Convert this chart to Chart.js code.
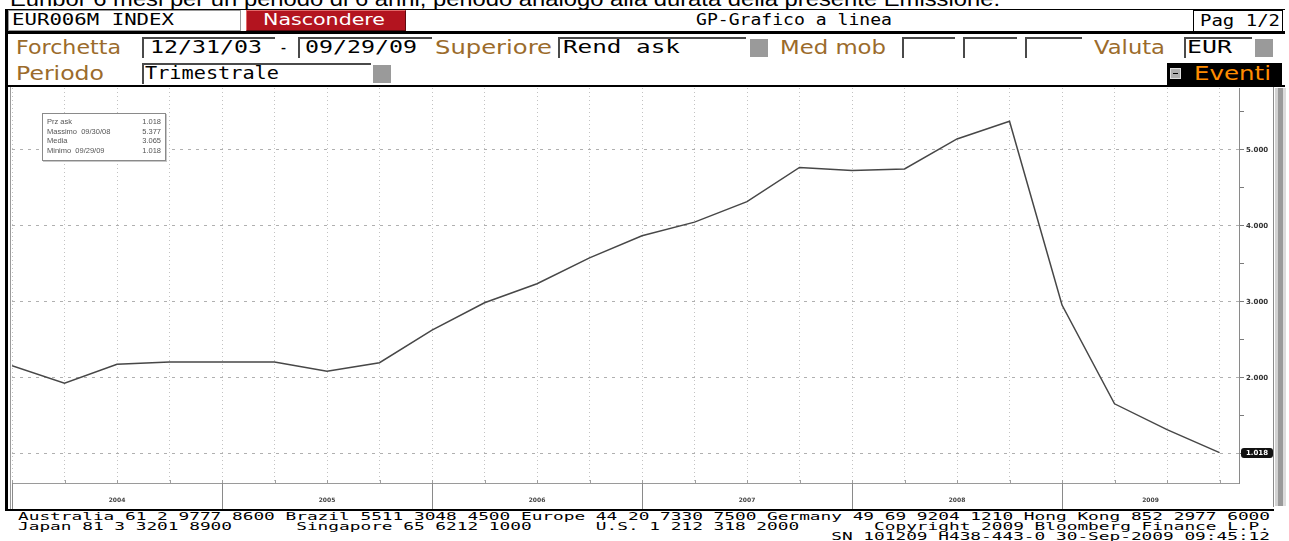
<!DOCTYPE html>
<html>
<head>
<meta charset="utf-8">
<title>EUR006M INDEX</title>
<script src="https://cdn.jsdelivr.net/npm/chart.js@4.4.1/dist/chart.umd.min.js"></script>
<style>
  html, body { margin: 0; padding: 0; background: #fff; }
  body { width: 1289px; height: 541px; position: relative; overflow: hidden; font-family: "DejaVu Sans", sans-serif; }
  .a { position: absolute; box-sizing: border-box; }
  .t { position: absolute; white-space: pre; transform-origin: 0 50%; }
  .lbl { color: #9b6b2b; font-size: 19px; line-height: 22px; }
  .val { color: #000; font-family: "DejaVu Sans Mono", monospace; font-size: 18px; line-height: 22px; }
  .box { position: absolute; box-sizing: border-box; height: 21px; border-top: 2px solid #4a4a4a; border-left: 2px solid #4a4a4a; background: #fff; }
  .sq { position: absolute; width: 18px; height: 18px; background: #9a9a9a; }
  .r1 { font-family: "DejaVu Sans Mono", monospace; font-size: 15px; line-height: 21px; color: #000; }
  #legend { position: absolute; left: 42px; top: 113px; width: 124px; height: 48px; box-sizing: border-box;
            border: 1px solid #8a8a8a; box-shadow: 1px 1px 0 #c8c8c8; background: #fff; padding: 3px 4px;
            font: 7.5px "Liberation Sans", Arial, sans-serif; line-height: 9.5px; color: #555; }
  #legend div { display: flex; justify-content: space-between; }
  #foot { left: 18px; top: 512px; font-family: "DejaVu Sans Mono", monospace; font-size: 11px; line-height: 9.8px; color: #000; margin: 0; }
</style>
</head>
<body>

<div class="t" data-w="990" style="left:10px;top:-12px;font:20px 'Liberation Sans',Arial,sans-serif;line-height:23px;">Euribor 6 mesi per un periodo di 6 anni, periodo analogo alla durata della presente Emissione.</div>

<!-- riga 1 -->
<div class="a" style="left:5px;top:9px;width:1280px;height:24px;background:#fff;border-top:1px solid #000;"></div>
<div class="a" style="left:8px;top:10px;width:233px;height:21px;border:1px solid #9a9a9a;"></div>
<div class="t r1" data-w="162" style="left:12px;top:10px;">EUR006M INDEX</div>
<div class="a" style="left:246px;top:10px;width:160px;height:21px;background:#b3141f;border-top:1px solid #e26a6a;border-left:1px solid #e26a6a;border-right:1px solid #5e0a10;border-bottom:1px solid #5e0a10;"></div>
<div class="t" data-w="122" style="left:263px;top:9px;color:#fff;font-size:16px;line-height:21px;">Nascondere</div>
<div class="t r1" data-w="196" style="left:696px;top:10px;">GP-Grafico a linea</div>
<div class="a" style="left:1193px;top:10px;width:90px;height:22px;border:1px solid #000;"></div>
<div class="t r1" data-w="80" style="left:1200px;top:11px;">Pag 1/2</div>
<div class="a" style="left:5px;top:31px;width:1280px;height:3px;background:#000;"></div>

<!-- riga 2 -->
<div class="t lbl" data-w="105" style="left:16px;top:36px;">Forchetta</div>
<div class="box" style="left:142px;top:37px;width:133px;"></div>
<div class="t val" data-w="112" style="left:150px;top:36px;">12/31/03</div>
<div class="t val" data-w="9" style="left:279px;top:36px;">-</div>
<div class="box" style="left:298px;top:37px;width:134px;"></div>
<div class="t val" data-w="112" style="left:305px;top:36px;">09/29/09</div>
<div class="t lbl" data-w="117" style="left:435px;top:36px;">Superiore</div>
<div class="box" style="left:558px;top:37px;width:188px;"></div>
<div class="t val" data-w="117" style="left:563px;top:36px;">Rend ask</div>
<div class="sq" style="left:750px;top:39px;"></div>
<div class="t lbl" data-w="106" style="left:780px;top:36px;">Med mob</div>
<div class="box" style="left:902px;top:37px;width:53px;"></div>
<div class="box" style="left:963px;top:37px;width:54px;"></div>
<div class="box" style="left:1025px;top:37px;width:57px;"></div>
<div class="t lbl" data-w="71" style="left:1094px;top:36px;">Valuta</div>
<div class="box" style="left:1184px;top:37px;width:68px;"></div>
<div class="t val" data-w="45" style="left:1187px;top:36px;">EUR</div>
<div class="sq" style="left:1255px;top:39px;"></div>

<!-- riga 3 -->
<div class="t lbl" data-w="88" style="left:16px;top:62px;">Periodo</div>
<div class="box" style="left:142px;top:63px;width:229px;"></div>
<div class="t val" data-w="134" style="left:145px;top:62px;">Trimestrale</div>
<div class="sq" style="left:373px;top:65px;"></div>
<div class="a" style="left:1167px;top:63px;width:115px;height:22px;background:#000;"></div>
<div class="a" style="left:1170px;top:68px;width:11px;height:11px;background:#b0b0b0;border:1px solid #e0e0e0;"></div>
<div class="a" style="left:1173px;top:73px;width:5px;height:1px;background:#000;"></div>
<div class="t" data-w="77" style="left:1194px;top:62px;color:#ff8c00;font-size:19px;line-height:22px;">Eventi</div>

<!-- cornice grafico -->
<div class="a" style="left:5px;top:9px;width:3px;height:502px;background:#000;"></div>
<div class="a" style="left:5px;top:85px;width:1280px;height:2px;background:#000;"></div>
<div class="a" style="left:10px;top:87px;width:1px;height:422px;background:#9a9a9a;"></div>
<div class="a" style="left:1273px;top:87px;width:1px;height:420px;background:#8a8a8a;"></div>
<div class="a" style="left:1275px;top:88px;width:11px;height:418px;background:linear-gradient(to right,#d2d2d2 0,#d2d2d2 3px,#9a9a9a 3px,#9a9a9a 8px,#dcdcdc 8px);"></div>
<div class="a" style="left:5px;top:509px;width:1269px;height:2px;background:#000;"></div>

<canvas id="chart" width="1264" height="421" style="position:absolute;left:10px;top:88px;width:1264px;height:421px;"></canvas>

<div id="legend"></div>

<pre id="foot" class="t"></pre>

<script>
// trimestri (fine periodo) e tassi EUR006M ask
const quarters = ['12/31/03', '03/31/04', '06/30/04', '09/30/04', '12/31/04', '03/31/05', '06/30/05', '09/30/05',
  '12/30/05', '03/31/06', '06/30/06', '09/29/06', '12/29/06', '03/30/07', '06/29/07', '09/28/07',
  '12/31/07', '03/31/08', '06/30/08', '09/30/08', '12/31/08', '03/31/09', '06/30/09', '09/29/09'];
const values = [2.16, 1.93, 2.18, 2.21, 2.21, 2.21, 2.09, 2.20,
  2.63, 2.99, 3.24, 3.58, 3.87, 4.05, 4.32, 4.77,
  4.73, 4.75, 5.145, 5.377, 2.96, 1.66, 1.32, 1.018];
const years = ['2004', '2005', '2006', '2007', '2008', '2009'];
const yTickValues = [1, 1.5, 2, 2.5, 3, 3.5, 4, 4.5, 5, 5.5];

// riquadro statistiche
const statLabels = ['Prz ask', 'Massimo', 'Media', 'Minimo'];
const statDates = ['', '09/30/08', '', '09/29/09'];
const statValues = ['1.018', '5.377', '3.065', '1.018'];

const footLines = [
  'Australia 61 2 9777 8600 Brazil 5511 3048 4500 Europe 44 20 7330 7500 Germany 49 69 9204 1210 Hong Kong 852 2977 6000',
  'Japan 81 3 3201 8900      Singapore 65 6212 1000      U.S. 1 212 318 2000       Copyright 2009 Bloomberg Finance L.P.',
  '                                                                            SN 101209 H438-443-0 30-Sep-2009 09:45:12'
];

document.getElementById('legend').innerHTML = statLabels.map((l, i) =>
  `<div><span>${l}${statDates[i] ? '&nbsp;&nbsp;' + statDates[i] : ''}</span><span>${statValues[i]}</span></div>`).join('');

const foot = document.getElementById('foot');
foot.textContent = footLines.join('\n');
foot.dataset.w = 1252;

// etichette anni + separatori + ultimo valore
const decor = {
  id: 'decor',
  afterDraw(chart) {
    const { ctx, chartArea: a, scales: { x, y } } = chart;
    ctx.save();
    const seps = quarters.map((q, i) => q.startsWith('12/') ? i : -1).filter(i => i >= 0);
    ctx.strokeStyle = '#8a8a8a';
    ctx.lineWidth = 1;
    seps.forEach(i => {
      const px = Math.round(x.getPixelForValue(i)) + 0.5;
      ctx.beginPath();
      ctx.moveTo(px, a.bottom);
      ctx.lineTo(px, chart.height);
      ctx.stroke();
    });
    // piccole tacche trimestrali sopra l'asse
    ctx.strokeStyle = '#a0a0a0';
    quarters.forEach((q, i) => {
      const px = Math.round(x.getPixelForValue(i)) + 0.5;
      ctx.beginPath();
      ctx.moveTo(px, a.bottom - 3);
      ctx.lineTo(px, a.bottom);
      ctx.stroke();
    });
    ctx.font = 'bold 6px "DejaVu Sans"';
    ctx.fillStyle = '#444';
    ctx.textAlign = 'center';
    ctx.textBaseline = 'middle';
    seps.forEach((i, k) => {
      const x0 = x.getPixelForValue(i);
      const x1 = k + 1 < seps.length ? x.getPixelForValue(seps[k + 1]) : a.right;
      ctx.fillText(years[k], (x0 + x1) / 2, a.bottom + 17);
    });

    const last = values[values.length - 1];
    const py = Math.round(y.getPixelForValue(last));
    const bx = a.right + 2, bw = 32, bh = 10;
    ctx.fillStyle = '#111';
    ctx.beginPath();
    ctx.roundRect(bx, py - bh / 2, bw, bh, 3);
    ctx.fill();
    ctx.fillStyle = '#fff';
    ctx.font = 'bold 7px "DejaVu Sans"';
    ctx.fillText(last.toFixed(3), bx + bw / 2, py + 0.5);
    ctx.restore();
  }
};

Chart.defaults.font.family = '"DejaVu Sans", sans-serif';

new Chart(document.getElementById('chart'), {
  type: 'line',
  data: {
    datasets: [{
      data: values.map((v, i) => ({ x: i, y: v })),
      borderColor: '#474747',
      borderWidth: 1.5,
      pointRadius: 0,
      tension: 0
    }]
  },
  options: {
    responsive: false,
    animation: false,
    layout: { padding: { left: 2, right: 0, top: 0, bottom: 0 } },
    plugins: { legend: { display: false }, tooltip: { enabled: false } },
    scales: {
      x: {
        type: 'linear',
        min: 0,
        max: 23.371,
        afterBuildTicks: s => { s.ticks = quarters.map((q, i) => ({ value: i })); },
        afterFit: s => { s.height = 26; s.paddingLeft = 0; s.paddingRight = 0; },
        ticks: { display: false },
        grid: { color: '#c2c2c2', lineWidth: 1, drawTicks: false },
        border: { display: true, color: '#9a9a9a', dash: [1, 3] }
      },
      y: {
        position: 'right',
        min: 0.618,
        max: 5.815,
        afterBuildTicks: s => { s.ticks = yTickValues.map(v => ({ value: v })); },
        afterFit: s => { s.width = 35; s.paddingTop = 0; s.paddingBottom = 0; },
        ticks: {
          padding: 2,
          color: '#333',
          font: { size: 7, weight: 'bold' },
          callback: v => Number.isInteger(v) && v > 1 ? v.toFixed(3) : ''
        },
        grid: {
          color: c => Number.isInteger(c.tick.value) ? '#b0b0b0' : 'rgba(0,0,0,0)',
          tickColor: '#7a7a7a',
          tickLength: 5,
          lineWidth: 1
        },
        border: { display: true, color: '#8a8a8a', dash: [3, 5] }
      }
    }
  },
  plugins: [decor]
});

// adatta le scritte alla larghezza del riferimento
function fitText() {
  document.querySelectorAll('[data-w]').forEach(el => {
    el.style.transform = 'none';
    const w = el.getBoundingClientRect().width;
    if (w > 0) el.style.transform = `scaleX(${el.dataset.w / w})`;
  });
}
fitText();
if (document.fonts) document.fonts.ready.then(fitText);
</script>
</body>
</html>
